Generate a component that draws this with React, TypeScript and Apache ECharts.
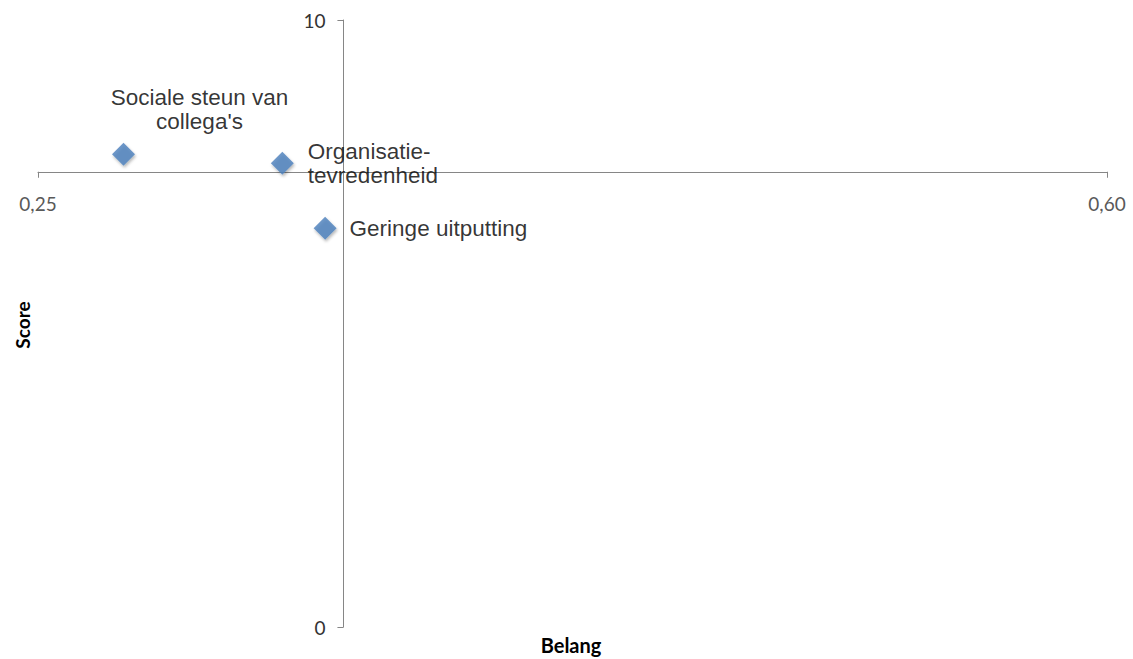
import React, { useEffect, useRef } from "react";
import * as echarts from "echarts";

const categories = ["Sociale steun van\ncollega's", "Organisatie-\ntevredenheid", "Geringe uitputting"];
const belang = [0.278, 0.33, 0.344];
const score = [7.79, 7.64, 6.57];
const xTicks = [0.25, 0.6];
const yTicks = [0, 10];
const crossBelang = 0.35;
const crossScore = 7.5;

const W = 1133;
const H = 659;
const G = { left: 38, right: 26, top: 20, bottom: 32 };

export default function App() {
  const ref = useRef<HTMLDivElement>(null);
  useEffect(() => {
    document.body.style.margin = "0";
    const chart = echarts.init(ref.current!, null, { renderer: "svg" });
    const gw = W - G.left - G.right;
    const gh = H - G.top - G.bottom;
    const xMin = xTicks[0], xMax = xTicks[xTicks.length - 1];
    const yMin = yTicks[0], yMax = yTicks[yTicks.length - 1];
    const xOffset = -(gh * (crossScore - yMin)) / (yMax - yMin);
    const yOffset = -(gw * (crossBelang - xMin)) / (xMax - xMin);
    const labelStyles: any[] = [
      { position: "top", offset: [76, -4], align: "center", lineHeight: 24 },
      { position: "right", distance: 14, align: "left", lineHeight: 24 },
      { position: "right", distance: 13, align: "left", lineHeight: 24 },
    ];
    const data = belang.map((b, i) => ({
      value: [b, score[i]],
      name: categories[i],
      label: {
        show: true,
        formatter: categories[i],
        fontFamily: "Liberation Sans, Arial, sans-serif",
        fontSize: 22.5,
        color: "#000",
        ...labelStyles[i],
      },
    }));
    chart.setOption({
      animation: false,
      backgroundColor: "#fff",
      grid: { ...G, containLabel: false, outerBoundsMode: "none" },
      xAxis: {
        type: "value",
        min: xMin,
        max: xMax,
        position: "bottom",
        offset: xOffset,
        axisLine: { show: true, onZero: false, lineStyle: { color: "#868686", width: 1 } },
        axisTick: { show: true, length: 6, customValues: xTicks, lineStyle: { color: "#868686" } },
        axisLabel: {
          customValues: xTicks,
          margin: 22,
          fontFamily: "Lato, sans-serif",
          fontSize: 19,
          color: "#595959",
          formatter: (v: number) => v.toFixed(2).replace(".", ","),
        },
        splitLine: { show: false },
      },
      yAxis: {
        type: "value",
        min: yMin,
        max: yMax,
        interval: yMax - yMin,
        position: "left",
        offset: yOffset,
        axisLine: { show: true, onZero: false, lineStyle: { color: "#868686", width: 1 } },
        axisTick: { show: true, length: 6, lineStyle: { color: "#868686" } },
        axisLabel: {
          margin: 18,
          fontFamily: "Lato, sans-serif",
          fontSize: 19,
          color: "#333",
        },
        splitLine: { show: false },
      },
      graphic: [
        {
          type: "text",
          x: 22,
          y: 325,
          rotation: Math.PI / 2,
          style: {
            text: "Score",
            font: "bold 19px Lato, sans-serif",
            fill: "#000",
            align: "center",
            verticalAlign: "middle",
          },
        },
        {
          type: "text",
          x: 571,
          y: 645,
          style: {
            text: "Belang",
            font: "bold 20px Lato, sans-serif",
            fill: "#000",
            align: "center",
            verticalAlign: "middle",
          },
        },
      ],
      series: [
        {
          type: "scatter",
          symbol: "diamond",
          symbolSize: 23,
          itemStyle: {
            color: "#4A7EBB",
            shadowBlur: 3,
            shadowColor: "rgba(0,0,0,0.35)",
            shadowOffsetX: 1,
            shadowOffsetY: 2,
          },
          data,
        },
      ],
    });
    return () => chart.dispose();
  }, []);
  return <div ref={ref} style={{ width: W, height: H }} />;
}
